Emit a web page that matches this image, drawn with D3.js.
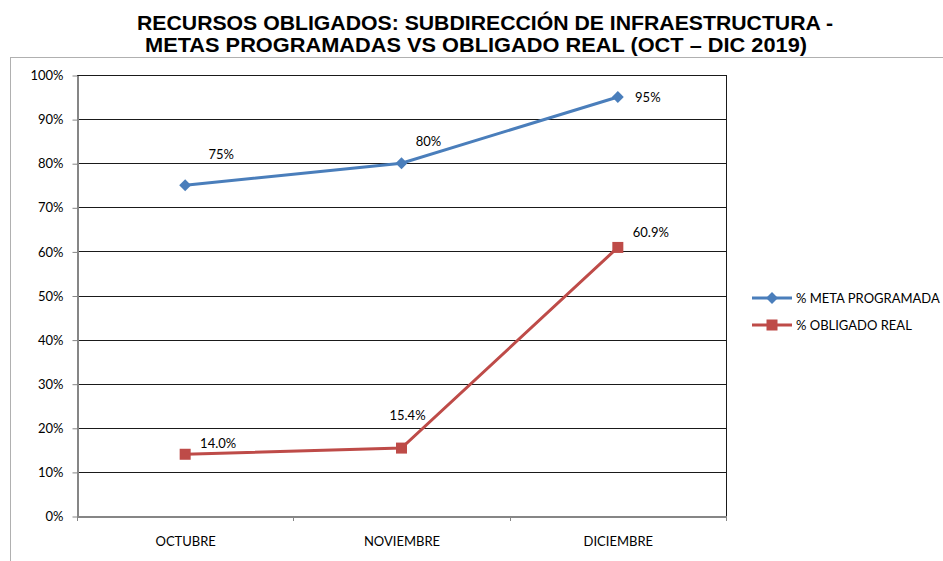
<!DOCTYPE html>
<html><head><meta charset="utf-8">
<script src="https://cdn.jsdelivr.net/npm/d3@7"></script>
<style>body{margin:0;background:#fff}svg{display:block}</style>
</head><body>
<svg id="chart" width="943" height="561"></svg>
<script>
const titleLines = ["RECURSOS OBLIGADOS: SUBDIRECCIÓN DE INFRAESTRUCTURA -", "METAS PROGRAMADAS VS OBLIGADO REAL (OCT – DIC 2019)"];
const categories = ["OCTUBRE", "NOVIEMBRE", "DICIEMBRE"];
const metaProgramada = [75, 80, 95];
const obligadoReal = [14.0, 15.4, 60.9];
const metaLabels = ["75%", "80%", "95%"];
const obligadoLabels = ["14.0%", "15.4%", "60.9%"];
const yTicks = [0, 10, 20, 30, 40, 50, 60, 70, 80, 90, 100];
const seriesNames = ["% META PROGRAMADA", "% OBLIGADO REAL"];

const svg = d3.select("#chart");
const lblFont = "Lato, 'Open Sans', sans-serif";
const M = {left: 77, right: 726, top: 75, bottom: 516};
const blue = "#4A7EBB", red = "#BE4B48";

// outer frame
svg.append("rect").attr("x", 10.5).attr("y", 57.5).attr("width", 960).attr("height", 560)
  .attr("fill", "none").attr("stroke", "#b0b0b0").attr("stroke-width", 1);

// title
const titleX = [485, 476], titleY = [30, 52], titleW = [696, 662];
svg.selectAll("text.title").data(titleLines).join("text").attr("class", "title")
  .attr("x", (d, i) => titleX[i]).attr("y", (d, i) => titleY[i])
  .attr("text-anchor", "middle").attr("font-family", "Liberation Sans, Arial, sans-serif")
  .attr("font-weight", "bold").attr("font-size", 21).attr("fill", "#000")
  .attr("textLength", (d, i) => titleW[i]).attr("lengthAdjust", "spacingAndGlyphs").text(d => d);

const x = d3.scaleBand().domain(categories).range([M.left, M.right]);
const y = d3.scaleLinear().domain([0, 100]).range([M.bottom, M.top]);

// gridlines
svg.append("g").selectAll("line").data(yTicks.filter(t => t > 0)).join("line")
  .attr("x1", M.left).attr("x2", M.right)
  .attr("y1", d => Math.round(y(d)) + 0.5).attr("y2", d => Math.round(y(d)) + 0.5)
  .attr("stroke", "#1a1a1a").attr("stroke-width", 1);
// right border
svg.append("line").attr("x1", M.right + 0.5).attr("x2", M.right + 0.5).attr("y1", M.top).attr("y2", M.bottom)
  .attr("stroke", "#1a1a1a");

// y axis
const yAxis = svg.append("g").attr("transform", `translate(${M.left + 0.5},0.5)`)
  .call(d3.axisLeft(y).tickValues(yTicks).tickFormat(d => d + "%").tickSize(5).tickSizeOuter(0));
yAxis.select(".domain").attr("stroke", "#868686").attr("stroke-width", 2);
yAxis.selectAll(".tick line").attr("stroke", "#868686");
yAxis.selectAll(".tick text").attr("x", -14).attr("font-family", lblFont).attr("font-size", 13).attr("fill", "#000");

// x axis
const xAxis = svg.append("g").attr("transform", `translate(0.5,${M.bottom + 0.5})`)
  .call(d3.axisBottom(x).tickSize(0).tickSizeOuter(0));
xAxis.select(".domain").attr("stroke", "#868686").attr("stroke-width", 2);
xAxis.selectAll(".tick text").attr("y", 20).attr("font-family", lblFont).attr("font-size", 13).attr("fill", "#000");
// category boundary ticks
const bounds = categories.map(c => x(c)).concat([x.range()[1]]);
svg.append("g").selectAll("line").data(bounds).join("line")
  .attr("x1", d => Math.round(d) + 0.5).attr("x2", d => Math.round(d) + 0.5)
  .attr("y1", M.bottom).attr("y2", M.bottom + 5).attr("stroke", "#868686");

const cx = c => x(c) + x.bandwidth() / 2;
const line = d3.line().x(d => cx(d.c)).y(d => y(d.v));
const metaData = categories.map((c, i) => ({c, v: metaProgramada[i], l: metaLabels[i]}));
const oblData = categories.map((c, i) => ({c, v: obligadoReal[i], l: obligadoLabels[i]}));

svg.append("path").datum(metaData).attr("d", line).attr("fill", "none").attr("stroke", blue).attr("stroke-width", 3);
svg.append("path").datum(oblData).attr("d", line).attr("fill", "none").attr("stroke", red).attr("stroke-width", 3);

const diamond = d3.symbol().type(d3.symbolDiamond2).size(90);
svg.append("g").selectAll("path").data(metaData).join("path")
  .attr("d", diamond).attr("transform", d => `translate(${cx(d.c)},${y(d.v)})`).attr("fill", blue);
svg.append("g").selectAll("rect").data(oblData).join("rect")
  .attr("x", d => cx(d.c) - 5.5).attr("y", d => y(d.v) - 5.5).attr("width", 11).attr("height", 11).attr("fill", red);

// data labels (offsets relative to points)
const metaOff = [[36, -26], [27, -17], [30, 5]];
const oblOff = [[33, -6], [6, -28], [33, -10]];
svg.append("g").selectAll("text").data(metaData).join("text")
  .attr("x", (d, i) => cx(d.c) + metaOff[i][0]).attr("y", (d, i) => y(d.v) + metaOff[i][1])
  .attr("text-anchor", "middle").attr("font-family", lblFont).attr("font-size", 13).attr("fill", "#000").text(d => d.l);
svg.append("g").selectAll("text").data(oblData).join("text")
  .attr("x", (d, i) => cx(d.c) + oblOff[i][0]).attr("y", (d, i) => y(d.v) + oblOff[i][1])
  .attr("text-anchor", "middle").attr("font-family", lblFont).attr("font-size", 13).attr("fill", "#000").text(d => d.l);

// legend
const leg = svg.append("g");
const legY = [298, 325];
const colors = [blue, red];
seriesNames.forEach((n, i) => {
  leg.append("line").attr("x1", 752).attr("x2", 792).attr("y1", legY[i]).attr("y2", legY[i]).attr("stroke", colors[i]).attr("stroke-width", 3);
  if (i === 0) leg.append("path").attr("d", diamond).attr("transform", `translate(772,${legY[i]})`).attr("fill", colors[i]);
  else leg.append("rect").attr("x", 766.5).attr("y", legY[i] - 5.5).attr("width", 11).attr("height", 11).attr("fill", colors[i]);
  leg.append("text").attr("x", 796).attr("y", legY[i] + 4.5).attr("font-family", lblFont).attr("font-size", 13)
    .attr("fill", "#000").text(n);
});
</script>
</body></html>
